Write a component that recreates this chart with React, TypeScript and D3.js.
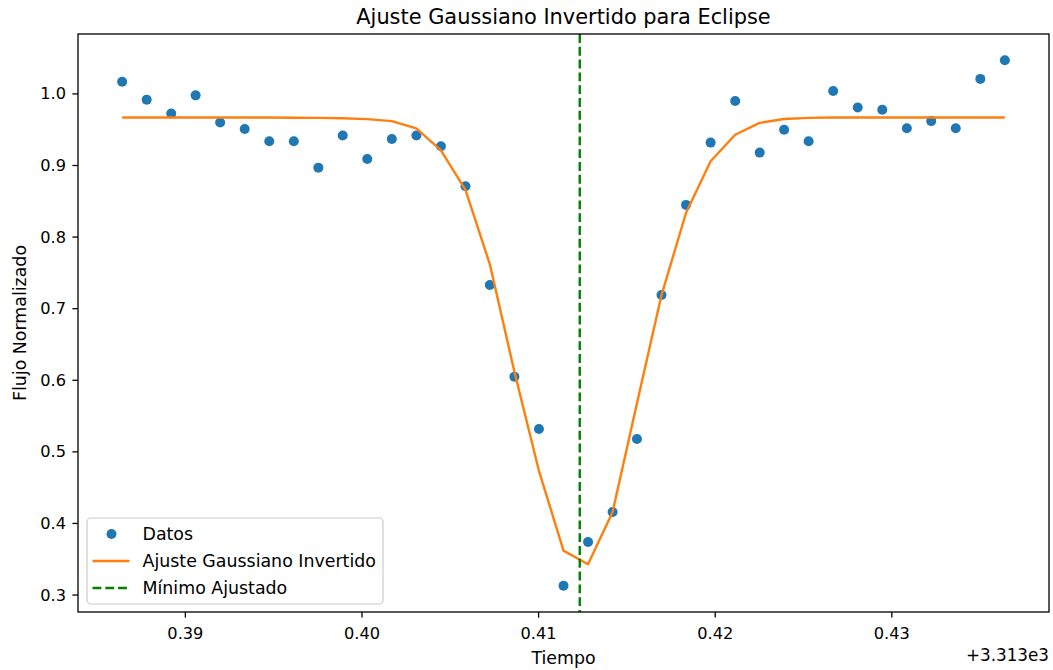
import React from "react";
import * as d3 from "d3";

// Observation times (days, offset from 3313)
const tiempo = [
  0.38642, 0.38781, 0.3892, 0.39058, 0.39197, 0.39336, 0.39475, 0.39614, 0.39753,
  0.39891, 0.4003, 0.40169, 0.40308, 0.40447, 0.40586, 0.40724, 0.40863, 0.41002,
  0.41141, 0.4128, 0.41419, 0.41557, 0.41696, 0.41835, 0.41974, 0.42113, 0.42252,
  0.4239, 0.42529, 0.42668, 0.42807, 0.42946, 0.43085, 0.43223, 0.43362, 0.43501,
  0.4364,
];

// Normalized flux measurements
const flujo = [
  1.017, 0.992, 0.9725, 0.998, 0.96, 0.951, 0.934, 0.934, 0.897, 0.942, 0.909,
  0.937, 0.942, 0.927, 0.871, 0.733, 0.605, 0.532, 0.313, 0.374, 0.416, 0.518,
  0.719, 0.845, 0.932, 0.99, 0.918, 0.95, 0.934, 1.004, 0.981, 0.978, 0.952,
  0.962, 0.952, 1.021, 1.047,
];

// Inverted Gaussian fit evaluated at the observation times
const ajuste = [
  0.967, 0.967, 0.967, 0.967, 0.967, 0.967, 0.967, 0.9668, 0.9665, 0.966, 0.9648,
  0.962, 0.952, 0.921, 0.866, 0.762, 0.612, 0.4735, 0.362, 0.343, 0.416, 0.568,
  0.719, 0.834, 0.906, 0.943, 0.9595, 0.965, 0.9665, 0.967, 0.967, 0.967, 0.967,
  0.967, 0.967, 0.967, 0.967,
];

const minimoAjustado = 0.41233;

const xTicks = [0.39, 0.4, 0.41, 0.42, 0.43];
const yTicks = [0.3, 0.4, 0.5, 0.6, 0.7, 0.8, 0.9, 1.0];

const W = 1053;
const H = 670;
const M = { left: 78, top: 34, right: 1049, bottom: 612 };
const FONT = "'DejaVu Sans', sans-serif";
const TICK_FS = 16.2;
const LABEL_FS = 17.4;
const TITLE_FS = 20.9;

function pad(ext: [number, number], f = 0.05): [number, number] {
  const r = ext[1] - ext[0];
  return [ext[0] - r * f, ext[1] + r * f];
}

export default function App() {
  const x = d3
    .scaleLinear()
    .domain(pad(d3.extent(tiempo) as [number, number]))
    .range([M.left, M.right]);
  const yExt = d3.extent([...flujo, ...ajuste]) as [number, number];
  const y = d3.scaleLinear().domain(pad(yExt)).range([M.bottom, M.top]);

  const linea = d3
    .line<number>()
    .x((_, i) => x(tiempo[i]))
    .y((d) => y(d));

  const cx = (M.left + M.right) / 2;
  const cy = (M.top + M.bottom) / 2;

  return (
    <svg
      width={W}
      height={H}
      style={{ position: "absolute", left: 0, top: 0, background: "#fff" }}
      fontFamily={FONT}
    >
      <rect x={0} y={0} width={W} height={H} fill="#fff" />
      <defs>
        <clipPath id="area">
          <rect x={M.left} y={M.top} width={M.right - M.left} height={M.bottom - M.top} />
        </clipPath>
      </defs>

      {/* title */}
      <text x={cx} y={17} textAnchor="middle" dominantBaseline="central" fontSize={TITLE_FS} fill="#000">
        Ajuste Gaussiano Invertido para Eclipse
      </text>

      <g clipPath="url(#area)">
        {flujo.map((v, i) => (
          <circle key={i} cx={x(tiempo[i])} cy={y(v)} r={5} fill="#1f77b4" />
        ))}
        <path d={linea(ajuste) ?? ""} fill="none" stroke="#ff7f0e" strokeWidth={2.4} strokeLinejoin="round" />
        <line
          x1={x(minimoAjustado)}
          x2={x(minimoAjustado)}
          y1={M.top}
          y2={M.bottom}
          stroke="#008000"
          strokeWidth={2.4}
          strokeDasharray="8.9,3.9"
        />
      </g>

      {/* axes frame */}
      <rect
        x={M.left}
        y={M.top}
        width={M.right - M.left}
        height={M.bottom - M.top}
        fill="none"
        stroke="#000"
        strokeWidth={1.3}
      />

      {/* x ticks */}
      {xTicks.map((t) => (
        <g key={t}>
          <line x1={x(t)} x2={x(t)} y1={M.bottom} y2={M.bottom + 5.6} stroke="#000" strokeWidth={1.3} />
          <text x={x(t)} y={633} textAnchor="middle" dominantBaseline="central" fontSize={TICK_FS} fill="#000">
            {t.toFixed(2)}
          </text>
        </g>
      ))}

      {/* y ticks */}
      {yTicks.map((t) => (
        <g key={t}>
          <line x1={M.left - 5.6} x2={M.left} y1={y(t)} y2={y(t)} stroke="#000" strokeWidth={1.3} />
          <text x={66} y={y(t)} textAnchor="end" dominantBaseline="central" fontSize={TICK_FS} fill="#000">
            {t.toFixed(1)}
          </text>
        </g>
      ))}

      {/* axis labels */}
      <text x={cx} y={658} textAnchor="middle" dominantBaseline="central" fontSize={LABEL_FS} fill="#000">
        Tiempo
      </text>
      <text x={M.right} y={655} textAnchor="end" dominantBaseline="central" fontSize={16.8} fill="#000">
        +3.313e3
      </text>
      <text
        transform={`translate(20,${cy}) rotate(-90)`}
        textAnchor="middle"
        dominantBaseline="central"
        fontSize={LABEL_FS}
        fill="#000"
      >
        Flujo Normalizado
      </text>

      {/* legend */}
      <g>
        <rect x={87} y={518} width={296} height={86} rx={4} fill="#fff" fillOpacity={0.8} stroke="#cccccc" strokeWidth={1.2} />
        <circle cx={111.5} cy={534} r={5} fill="#1f77b4" />
        <text x={142.5} y={534} dominantBaseline="central" fontSize={LABEL_FS} fill="#000">
          Datos
        </text>
        <line x1={92.5} x2={129.5} y1={561} y2={561} stroke="#ff7f0e" strokeWidth={2.4} />
        <text x={142.5} y={561} dominantBaseline="central" fontSize={LABEL_FS} fill="#000">
          Ajuste Gaussiano Invertido
        </text>
        <line x1={92.5} x2={129.5} y1={588} y2={588} stroke="#008000" strokeWidth={2.4} strokeDasharray="8.9,3.9" />
        <text x={142.5} y={588} dominantBaseline="central" fontSize={LABEL_FS} fill="#000">
          Mínimo Ajustado
        </text>
      </g>
    </svg>
  );
}
